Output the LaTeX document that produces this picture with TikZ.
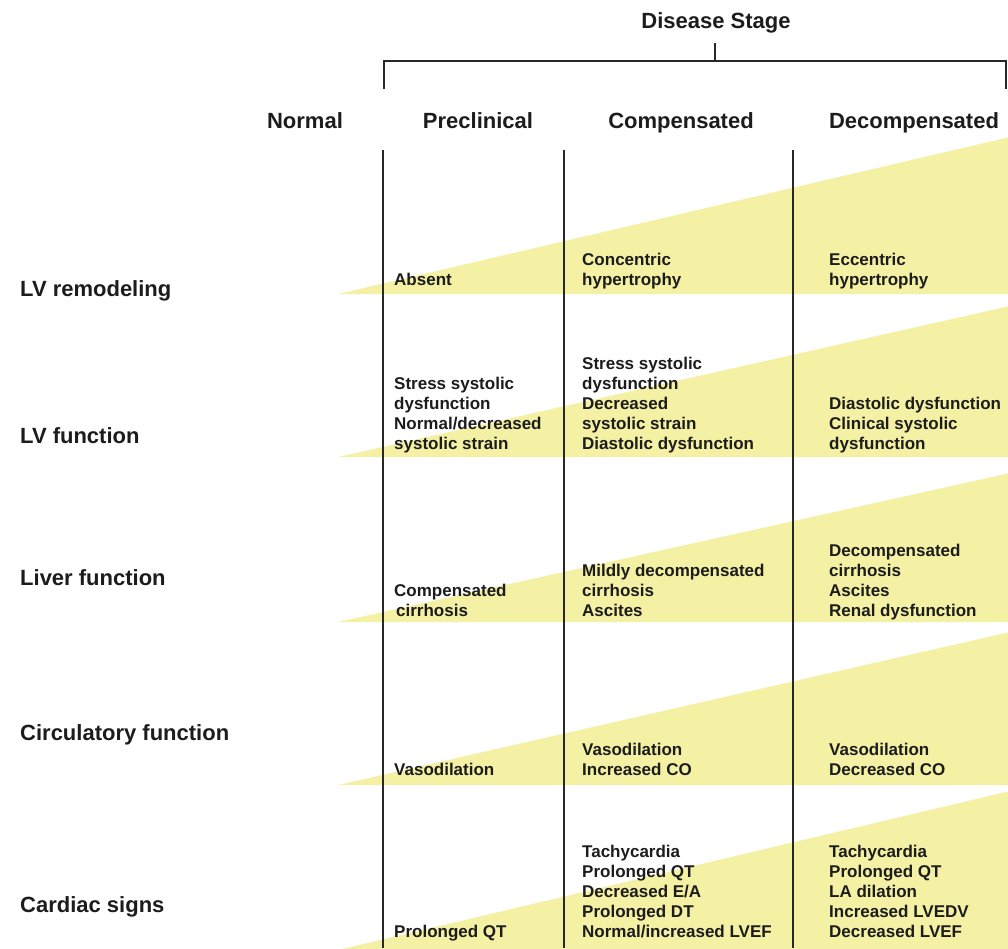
\documentclass[tikz,border=0pt]{standalone}
\usepackage{fontspec}
\setmainfont{Liberation Sans}
\definecolor{wedgey}{RGB}{244,240,164}
\definecolor{ink}{RGB}{28,28,28}
\definecolor{rulec}{RGB}{40,40,40}
\newcommand{\cellstack}[1]{\begin{tabular}[b]{@{}l@{}}#1\end{tabular}}
\begin{document}
\begin{tikzpicture}[x=1pt,y=-1pt,
  big/.style={font=\bfseries\fontsize{22}{26}\selectfont, text=ink, inner sep=0pt},
  rowlab/.style={big, anchor=base west},
  head/.style={big, anchor=base},
  cell/.style={font=\bfseries\fontsize{17}{20}\selectfont, text=ink, inner sep=0pt, anchor=base west},
  rulel/.style={draw=rulec, line width=2pt},
  wedgef/.style={fill=wedgey}]
\useasboundingbox (0,0) rectangle (1008,948);

% wedges
\fill[wedgef] (338,294) -- (1010,294) -- (1010,137) -- cycle;
\fill[wedgef] (338,457) -- (1010,457) -- (1010,306) -- cycle;
\fill[wedgef] (338,622) -- (1010,622) -- (1010,473) -- cycle;
\fill[wedgef] (338,785) -- (1010,785) -- (1010,632) -- cycle;
\fill[wedgef] (338,950) -- (1010,950) -- (1010,791) -- cycle;

% header
\node[big, anchor=base] (ds) at (716,28) {Disease Stage};
\coordinate (tickt) at (715,43);
\coordinate (tickb) at (715,61);
\coordinate (bl) at (384,61);
\coordinate (br) at (1006,61);
\coordinate (bll) at (384,89);
\coordinate (brl) at (1006,89);
\draw[rulel] (tickt) -- (tickb);
\draw[rulel] (bll) -- (bl) -- (br) -- (brl);

\node[head] (hn) at (305,128) {Normal};
\node[head] (hp) at (478,128) {Preclinical};
\node[head] (hc) at (681,128) {Compensated};
\node[head] (hd) at (914,128) {Decompensated};

% column lines
\coordinate (c1t) at (383,150); \coordinate (c1b) at (383,948);
\coordinate (c2t) at (564,150); \coordinate (c2b) at (564,948);
\coordinate (c3t) at (793,150); \coordinate (c3b) at (793,948);
\draw[rulel] (c1t) -- (c1b);
\draw[rulel] (c2t) -- (c2b);
\draw[rulel] (c3t) -- (c3b);

% row labels
\node[rowlab] (r1) at (20,296) {LV remodeling};
\node[rowlab] (r2) at (20,443) {LV function};
\node[rowlab] (r3) at (20,585) {Liver function};
\node[rowlab] (r4) at (20,740) {Circulatory function};
\node[rowlab] (r5) at (20,912) {Cardiac signs};

% row 1
\node[cell] (p1) at (394,285) {\cellstack{Absent}};
\node[cell] (m1) at (582,285) {\cellstack{Concentric\\hypertrophy}};
\node[cell] (d1) at (829,285) {\cellstack{Eccentric\\hypertrophy}};
% row 2
\node[cell] (p2) at (394,449) {\cellstack{Stress systolic\\dysfunction\\Normal/decreased\\systolic strain}};
\node[cell] (m2) at (582,449) {\cellstack{Stress systolic\\dysfunction\\Decreased\\systolic strain\\Diastolic dysfunction}};
\node[cell] (d2) at (829,449) {\cellstack{Diastolic dysfunction\\Clinical systolic\\dysfunction}};
% row 3
\node[cell] (p3) at (394,616) {\cellstack{Compensated\\\hspace{2pt}cirrhosis}};
\node[cell] (m3) at (582,616) {\cellstack{Mildly decompensated\\cirrhosis\\Ascites}};
\node[cell] (d3) at (829,616) {\cellstack{Decompensated\\cirrhosis\\Ascites\\Renal dysfunction}};
% row 4
\node[cell] (p4) at (394,775) {\cellstack{Vasodilation}};
\node[cell] (m4) at (582,775) {\cellstack{Vasodilation\\Increased CO}};
\node[cell] (d4) at (829,775) {\cellstack{Vasodilation\\Decreased CO}};
% row 5
\node[cell] (p5) at (394,937) {\cellstack{Prolonged QT}};
\node[cell] (m5) at (582,937) {\cellstack{Tachycardia\\Prolonged QT\\Decreased E/A\\Prolonged DT\\Normal/increased LVEF}};
\node[cell] (d5) at (829,937) {\cellstack{Tachycardia\\Prolonged QT\\LA dilation\\Increased LVEDV\\Decreased LVEF}};
\end{tikzpicture}
\end{document}
